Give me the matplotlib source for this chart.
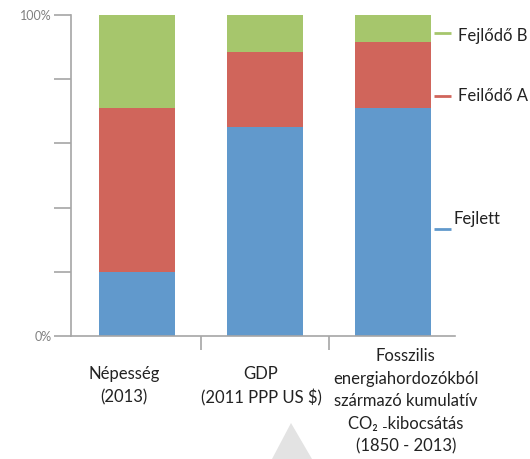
import matplotlib.pyplot as plt
from matplotlib.patches import Polygon

# Data (shares in percent)
categories = ['Népesség\n(2013)',
              'GDP\n(2011 PPP US $)',
              'Fosszilis\nenergiahordozókból\nszármazó kumulatív\nCO₂ ₋kibocsátás\n(1850 - 2013)']
fejlett = [20, 65, 71]
fejlodo_a = [51, 23.5, 20.6]
fejlodo_b = [29, 11.5, 8.4]
series_names = ['Fejlett', 'Feilődő A', 'Fejlődő B']
colors = ['#6199cc', '#d0655b', '#a6c66c']

plt.rcParams['font.family'] = ['Lato', 'DejaVu Sans']

fig = plt.figure(figsize=(5.30, 4.59), dpi=100)
ax = fig.add_axes([71 / 530, 1 - 336 / 459, 384 / 530, 321 / 459])

x = list(range(len(categories)))
width = 0.59
bottom = [0, 0, 0]
for vals, col in zip([fejlett, fejlodo_a, fejlodo_b], colors):
    ax.bar(x, vals, width, bottom=bottom, color=col, linewidth=0)
    bottom = [b + v for b, v in zip(bottom, vals)]

ax.set_xlim(-0.515, 2.485)
ax.set_ylim(0, 100)

grey = '#a6a6a6'
for s in ['top', 'right']:
    ax.spines[s].set_visible(False)
ax.spines['left'].set_color(grey)
ax.spines['bottom'].set_color(grey)
ax.spines['left'].set_linewidth(1.2)
ax.spines['bottom'].set_linewidth(1.2)

ax.set_yticks([0, 20, 40, 60, 80, 100])
ax.set_yticklabels(['0%', '', '', '', '', '100%'])
ax.tick_params(axis='y', length=12, width=1.2, color=grey, labelcolor='#808080',
               labelsize=9, pad=2)
ax.set_xticks([0.5, 1.5])
ax.set_xticklabels(['', ''])
ax.tick_params(axis='x', length=10, width=1.2, color=grey, direction='out')

# category labels under the axis
label_y = [-0.095, -0.095, -0.038]
label_dx = [-0.1, -0.03, 0.1]
for xi, lab, ly, dx in zip(x, categories, label_y, label_dx):
    ax.text(xi + dx, ly, lab, transform=ax.get_xaxis_transform(), ha='center', va='top',
            fontsize=12, linespacing=1.5, color='#222222')

# series labels on the right
line_y = [33.3, 74.8, 94.4]
text_y = [36.5, 74.8, 93.5]
text_x = [2.47, 2.51, 2.51]
for name, col, ly, ty, tx in zip(series_names, colors, line_y, text_y, text_x):
    ax.plot([2.32, 2.45], [ly, ly], color=col, lw=2, clip_on=False, solid_capstyle='butt')
    ax.text(tx, ty, name, ha='left', va='center', fontsize=12, color='#222222', clip_on=False)

# light grey triangle at the bottom
tri = Polygon([[272 / 530, 0], [312 / 530, 0], [291 / 530, 1 - 423 / 459]],
              closed=True, transform=fig.transFigure, facecolor='#e3e3e3', edgecolor='none')
fig.patches.append(tri)

fig.savefig('out.png', dpi=100)
